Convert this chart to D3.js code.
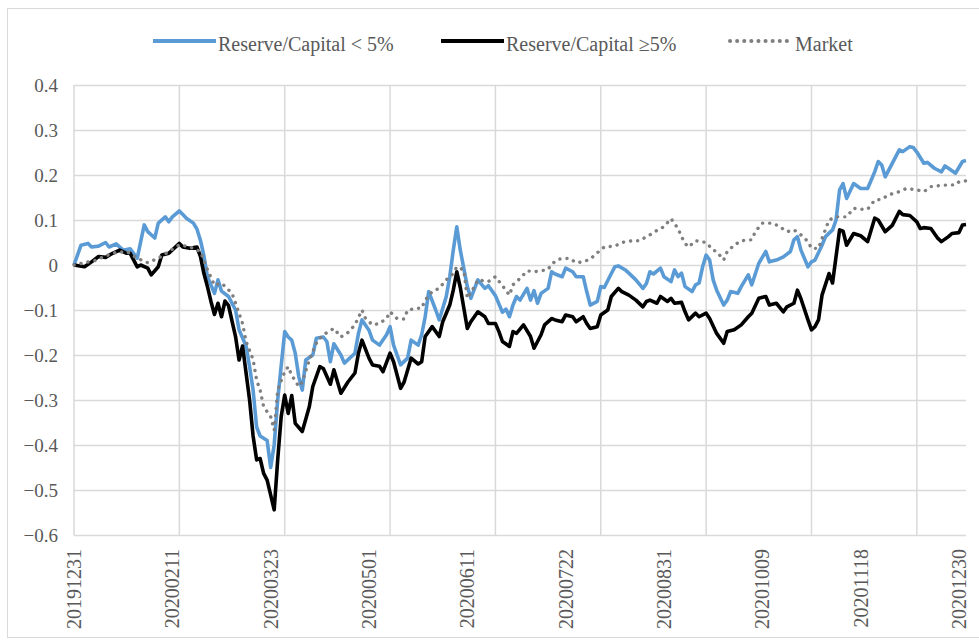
<!DOCTYPE html>
<html>
<head>
<meta charset="utf-8">
<script src="https://cdn.jsdelivr.net/npm/d3@7"></script>
<style>
  body { margin: 0; background: #fff; }
</style>
</head>
<body>
<div id="chart"></div>
<script>
// trading-day index (0 = 20191231) and cumulative return
const lowReserve = [[0,0],[2,0.044],[4,0.048],[5,0.04],[7,0.042],[9,0.05],[10,0.04],[12,0.047],[14,0.033],[16,0.036],[18,0.015],[20,0.089],[21,0.074],[23,0.06],[24,0.093],[26,0.107],[27,0.096],[28,0.107],[30,0.12],[31,0.112],[32,0.104],[34,0.093],[35,0.08],[36,0.055],[37,0.02],[38,-0.026],[40,-0.063],[41,-0.033],[42,-0.058],[44,-0.07],[46,-0.1],[47,-0.144],[49,-0.18],[50,-0.226],[51,-0.278],[52,-0.36],[53,-0.38],[55,-0.39],[56,-0.45],[57,-0.40],[58,-0.30],[60,-0.148],[61,-0.16],[62,-0.167],[63,-0.196],[64,-0.248],[65,-0.278],[66,-0.211],[68,-0.2],[69,-0.163],[71,-0.16],[72,-0.17],[73,-0.215],[74,-0.175],[76,-0.2],[77,-0.218],[80,-0.196],[81,-0.152],[82,-0.122],[84,-0.145],[85,-0.167],[87,-0.178],[89,-0.155],[90,-0.137],[91,-0.178],[93,-0.222],[95,-0.207],[96,-0.167],[98,-0.178],[99,-0.155],[100,-0.115],[101,-0.059],[103,-0.1],[104,-0.122],[106,-0.07],[107,-0.026],[108,0.033],[109,0.085],[110,0.033],[112,-0.048],[113,-0.074],[115,-0.033],[117,-0.052],[118,-0.046],[120,-0.068],[122,-0.105],[123,-0.098],[124,-0.115],[125,-0.089],[126,-0.07],[127,-0.078],[129,-0.052],[130,-0.078],[131,-0.057],[132,-0.085],[133,-0.063],[135,-0.052],[136,-0.015],[137,-0.02],[139,-0.026],[140,-0.007],[142,-0.015],[143,-0.026],[145,-0.026],[146,-0.059],[147,-0.089],[149,-0.081],[150,-0.048],[151,-0.05],[153,-0.019],[154,-0.004],[155,-0.002],[157,-0.011],[158,-0.018],[160,-0.033],[162,-0.052],[163,-0.041],[164,-0.015],[165,-0.02],[167,-0.007],[168,-0.026],[170,-0.037],[171,-0.011],[172,-0.026],[173,-0.018],[174,-0.048],[176,-0.059],[177,-0.044],[178,-0.04],[179,-0.004],[180,0.022],[181,0.011],[182,-0.033],[183,-0.056],[185,-0.089],[186,-0.078],[187,-0.059],[189,-0.063],[190,-0.048],[192,-0.022],[193,-0.044],[195,0.004],[197,0.03],[198,0.007],[200,0.011],[202,0.018],[204,0.03],[205,0.056],[206,0.063],[207,0.033],[209,-0.004],[210,0.007],[211,0.011],[213,0.044],[214,0.063],[216,0.078],[217,0.1],[218,0.167],[219,0.181],[220,0.148],[222,0.181],[224,0.17],[226,0.17],[228,0.207],[229,0.23],[230,0.222],[231,0.196],[233,0.226],[235,0.256],[236,0.252],[238,0.263],[239,0.261],[240,0.251],[242,0.226],[243,0.228],[245,0.215],[247,0.207],[248,0.22],[249,0.215],[251,0.204],[253,0.23],[254,0.232]];

const highReserve = [[0,0],[3,-0.004],[5,0.007],[7,0.019],[9,0.017],[11,0.026],[13,0.033],[15,0.026],[16,0.026],[18,-0.004],[19,0],[21,-0.007],[22,-0.022],[24,-0.004],[25,0.022],[27,0.026],[30,0.048],[31,0.04],[33,0.037],[35,0.04],[36,0.019],[37,-0.019],[38,-0.048],[39,-0.081],[40,-0.11],[41,-0.085],[42,-0.115],[43,-0.08],[44,-0.09],[46,-0.159],[47,-0.211],[48,-0.18],[50,-0.3],[51,-0.38],[52,-0.433],[53,-0.43],[54,-0.463],[55,-0.478],[57,-0.544],[58,-0.433],[59,-0.337],[60,-0.289],[61,-0.33],[62,-0.29],[63,-0.352],[65,-0.37],[67,-0.315],[68,-0.27],[70,-0.226],[71,-0.23],[73,-0.265],[74,-0.233],[76,-0.285],[78,-0.26],[80,-0.24],[81,-0.196],[82,-0.167],[84,-0.207],[85,-0.222],[87,-0.225],[88,-0.237],[90,-0.196],[91,-0.215],[93,-0.274],[94,-0.26],[96,-0.207],[98,-0.22],[99,-0.215],[100,-0.159],[102,-0.137],[104,-0.159],[105,-0.126],[107,-0.089],[108,-0.056],[109,-0.015],[110,-0.05],[112,-0.141],[113,-0.126],[115,-0.104],[117,-0.115],[118,-0.13],[120,-0.13],[121,-0.148],[122,-0.17],[124,-0.181],[125,-0.148],[126,-0.152],[128,-0.133],[130,-0.159],[131,-0.185],[133,-0.155],[134,-0.133],[136,-0.119],[137,-0.122],[139,-0.126],[140,-0.111],[142,-0.115],[143,-0.126],[145,-0.115],[146,-0.13],[147,-0.141],[149,-0.137],[150,-0.111],[152,-0.1],[153,-0.07],[155,-0.052],[156,-0.059],[158,-0.067],[160,-0.078],[162,-0.093],[163,-0.081],[164,-0.078],[166,-0.085],[167,-0.07],[169,-0.081],[170,-0.074],[171,-0.085],[173,-0.083],[174,-0.104],[175,-0.122],[177,-0.107],[178,-0.115],[180,-0.107],[181,-0.119],[183,-0.152],[185,-0.174],[186,-0.148],[188,-0.144],[190,-0.133],[192,-0.115],[193,-0.107],[195,-0.074],[197,-0.07],[198,-0.089],[200,-0.085],[202,-0.104],[203,-0.093],[205,-0.085],[206,-0.056],[207,-0.075],[209,-0.122],[210,-0.144],[211,-0.137],[212,-0.122],[213,-0.067],[215,-0.019],[216,-0.04],[218,0.078],[219,0.075],[220,0.044],[222,0.07],[224,0.065],[226,0.052],[227,0.078],[228,0.104],[229,0.1],[231,0.074],[233,0.088],[235,0.119],[236,0.112],[238,0.11],[240,0.096],[241,0.081],[242,0.083],[244,0.081],[246,0.059],[247,0.052],[249,0.063],[250,0.07],[252,0.072],[253,0.089],[254,0.09]];

const market = [[0,0],[3,0.005],[6,0.01],[9,0.02],[12,0.028],[15,0.03],[18,0.015],[21,0.005],[24,0.015],[27,0.03],[30,0.045],[33,0.04],[36,0.03],[38,-0.01],[40,-0.045],[42,-0.04],[45,-0.063],[46,-0.085],[48,-0.13],[49,-0.17],[51,-0.21],[52,-0.256],[53,-0.278],[54,-0.315],[56,-0.337],[57,-0.367],[58,-0.278],[60,-0.237],[61,-0.226],[62,-0.245],[64,-0.27],[65,-0.26],[67,-0.211],[69,-0.174],[70,-0.163],[72,-0.15],[74,-0.141],[76,-0.16],[78,-0.15],[80,-0.133],[82,-0.1],[83,-0.119],[85,-0.133],[87,-0.13],[89,-0.119],[90,-0.104],[92,-0.119],[94,-0.12],[95,-0.1],[98,-0.096],[99,-0.096],[100,-0.078],[102,-0.059],[104,-0.052],[106,-0.033],[108,-0.019],[109,-0.004],[111,-0.011],[112,-0.074],[114,-0.048],[115,-0.033],[118,-0.037],[120,-0.026],[122,-0.046],[124,-0.067],[125,-0.044],[127,-0.03],[129,-0.013],[131,-0.015],[133,-0.013],[135,-0.01],[136,0.002],[138,0.013],[141,0.015],[143,0.005],[145,0.007],[147,0.013],[149,0.027],[151,0.04],[154,0.042],[156,0.05],[159,0.054],[161,0.054],[164,0.067],[166,0.077],[168,0.085],[170,0.103],[172,0.081],[173,0.063],[174,0.048],[175,0.04],[177,0.054],[180,0.05],[182,0.033],[183,0.03],[185,0.011],[186,0.03],[188,0.044],[190,0.054],[193,0.056],[194,0.074],[196,0.093],[199,0.093],[201,0.085],[203,0.074],[205,0.078],[207,0.067],[209,0.052],[210,0.037],[212,0.037],[213,0.059],[215,0.1],[217,0.107],[220,0.107],[222,0.126],[224,0.124],[226,0.124],[228,0.144],[230,0.146],[232,0.156],[235,0.163],[237,0.17],[240,0.167],[242,0.163],[244,0.174],[246,0.176],[249,0.178],[251,0.178],[252,0.185],[254,0.187]];

// category labels shown every 28 trading days
const dateLabels = ["20191231","20200211","20200323","20200501","20200611","20200722","20200831","20201009","20201118","20201230"];
const labelStep = 28;
const gridStep = 30;
const lastDay = 254;
const yTicks = [0.4, 0.3, 0.2, 0.1, 0, -0.1, -0.2, -0.3, -0.4, -0.5, -0.6];

const seriesNames = ["Reserve/Capital < 5%", "Reserve/Capital \u22655%", "Market"];

const width = 979, height = 641;
const margin = {top: 85, bottom: 106, left: 74, right: 13};
const serif = '"Liberation Serif", "Times New Roman", serif';
const textColor = '#595959';

const svg = d3.select('#chart')
    .append('svg')
    .attr('width', width)
    .attr('height', height)
    .style('display', 'block');

// outer chart frame
svg.append('rect')
    .attr('x', 7.5)
    .attr('y', 8.5)
    .attr('width', width + 20)
    .attr('height', height - 12)
    .attr('fill', 'none')
    .attr('stroke', '#d9d9d9')
    .attr('stroke-width', 1);

const xScale = d3.scaleLinear()
    .domain([0, lastDay])
    .range([margin.left, width - margin.right]);

const yScale = d3.scaleLinear()
    .domain([-0.6, 0.4])
    .range([height - margin.bottom, margin.top]);

// horizontal gridlines + labels
const yAxis = svg.append('g')
    .attr('transform', `translate(${margin.left},0)`)
    .call(d3.axisLeft(yScale)
        .tickValues(yTicks)
        .tickSize(-(width - margin.right - margin.left))
        .tickPadding(16)
        .tickFormat(d => d === 0 ? '0' : d3.format('.1f')(d)))
    .attr('font-family', serif)
    .attr('font-size', 19);
yAxis.select('.domain').remove();
yAxis.selectAll('.tick line').attr('stroke', '#d9d9d9').attr('stroke-width', 1.5);
yAxis.selectAll('.tick text').attr('fill', textColor);

// vertical gridlines every 30 days
const gridDays = d3.range(0, lastDay, gridStep);
svg.append('g')
    .selectAll('line')
    .data(gridDays)
    .enter().append('line')
    .attr('x1', d => xScale(d))
    .attr('x2', d => xScale(d))
    .attr('y1', yScale(0.4))
    .attr('y2', yScale(-0.6))
    .attr('stroke', '#d9d9d9')
    .attr('stroke-width', 1.5);

// rotated date labels
const labelDays = dateLabels.map((d, i) => i * labelStep);
svg.append('g')
    .attr('font-family', serif)
    .attr('font-size', 20)
    .selectAll('text')
    .data(dateLabels)
    .enter().append('text')
    .attr('transform', (d, i) => `translate(${xScale(labelDays[i]) + 7},${yScale(-0.6) + 14}) rotate(-90)`)
    .attr('text-anchor', 'end')
    .attr('fill', textColor)
    .text(d => d);

const line = d3.line()
    .x(d => xScale(d[0]))
    .y(d => yScale(d[1]));

svg.append('path')
    .datum(lowReserve)
    .attr('d', line)
    .attr('fill', 'none')
    .attr('stroke', '#5b9bd5')
    .attr('stroke-width', 3.6)
    .attr('stroke-linejoin', 'round');

svg.append('path')
    .datum(highReserve)
    .attr('d', line)
    .attr('fill', 'none')
    .attr('stroke', '#000')
    .attr('stroke-width', 3.6)
    .attr('stroke-linejoin', 'round');

svg.append('path')
    .datum(market)
    .attr('d', line)
    .attr('fill', 'none')
    .attr('stroke', '#7f7f7f')
    .attr('stroke-width', 3.4)
    .attr('stroke-linecap', 'round')
    .attr('stroke-dasharray', '0.1 7');

// legend
const legendItems = [
    {name: seriesNames[0], x: 153, color: '#5b9bd5', dash: null},
    {name: seriesNames[1], x: 441, color: '#000', dash: null},
    {name: seriesNames[2], x: 730, color: '#7f7f7f', dash: '0.1 7'}
];
const legend = svg.append('g');
legendItems.forEach(item => {
    legend.append('line')
        .attr('x1', item.x)
        .attr('x2', item.x + 63)
        .attr('y1', 41)
        .attr('y2', 41)
        .attr('stroke', item.color)
        .attr('stroke-width', 4)
        .attr('stroke-linecap', item.dash ? 'round' : 'butt')
        .attr('stroke-dasharray', item.dash);
    legend.append('text')
        .attr('x', item.x + 65)
        .attr('y', 51)
        .attr('font-family', serif)
        .attr('font-size', 20)
        .attr('fill', textColor)
        .text(item.name);
});
</script>
</body>
</html>
